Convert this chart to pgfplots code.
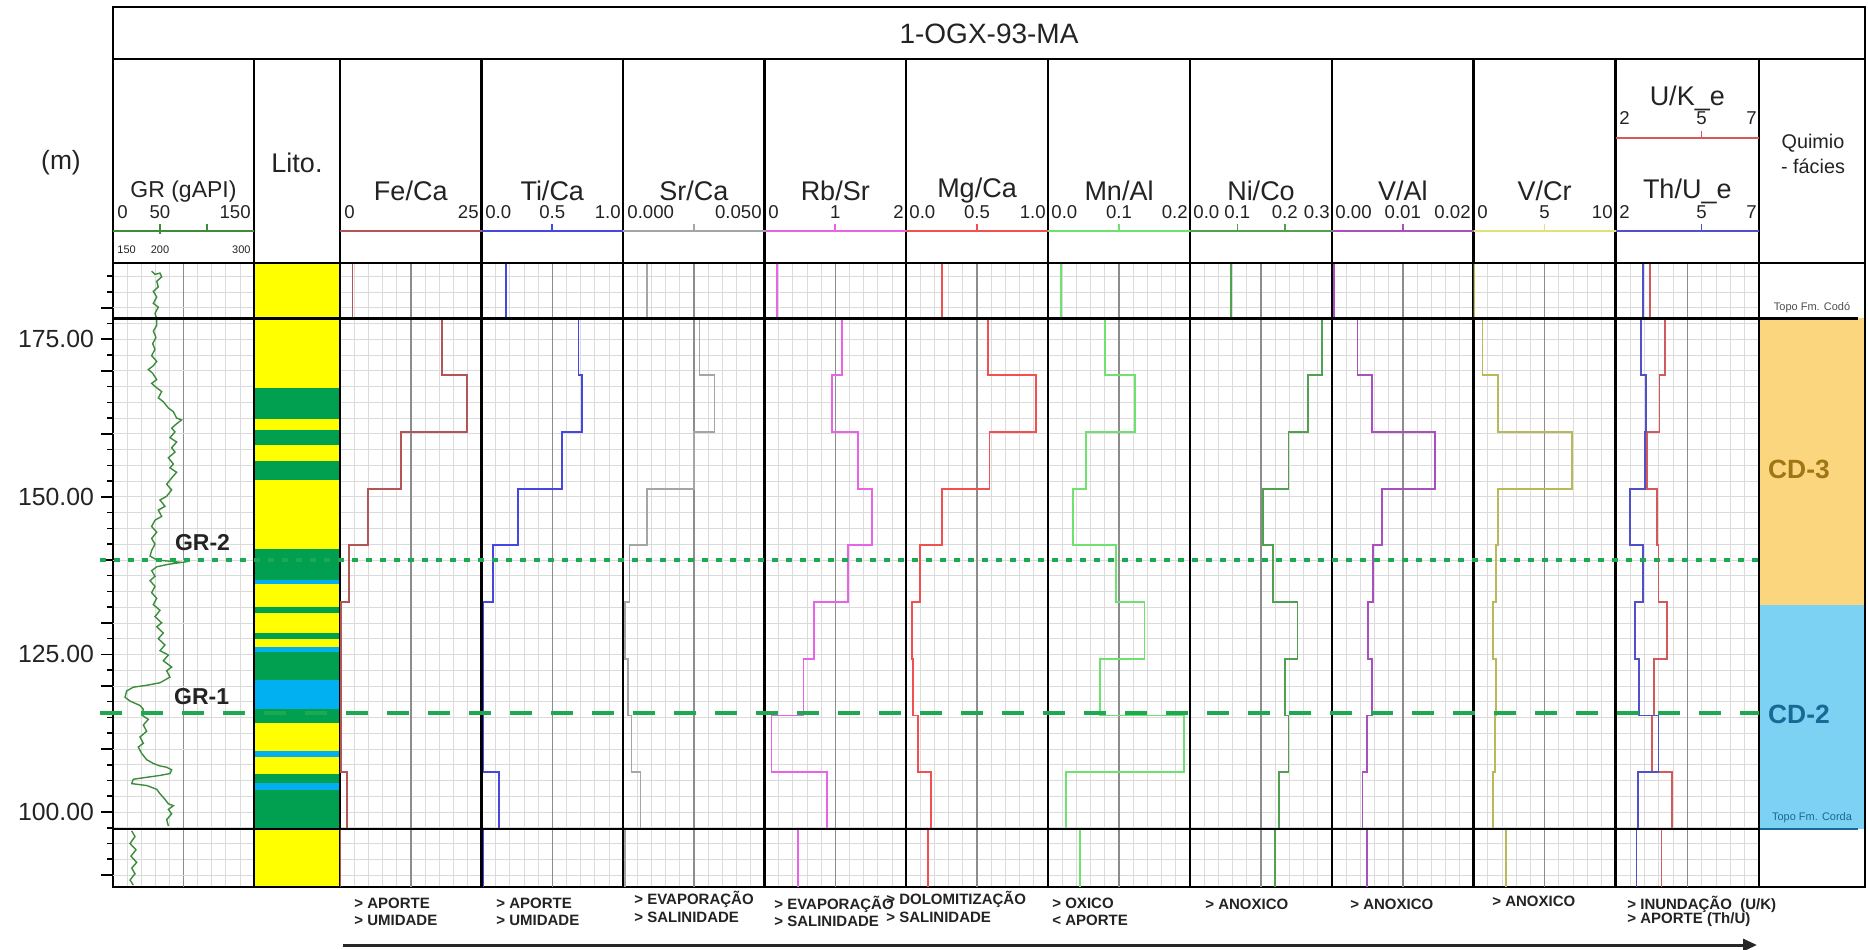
\documentclass[border=0pt]{standalone}
\usepackage{pgfplots}
\pgfplotsset{compat=1.18}
\usepackage{fontspec}
\setmainfont{Liberation Sans}
\usetikzlibrary{arrows.meta}

% curve and fill colours
\definecolor{txt}{RGB}{35,35,35}
\definecolor{cGR}{RGB}{60,140,60}
\definecolor{cFe}{RGB}{180,85,85}
\definecolor{cTi}{RGB}{70,70,225}
\definecolor{cSr}{RGB}{165,165,165}
\definecolor{cRb}{RGB}{230,100,230}
\definecolor{cMg}{RGB}{240,80,80}
\definecolor{cMn}{RGB}{110,225,110}
\definecolor{cNi}{RGB}{80,160,80}
\definecolor{cVAl}{RGB}{170,80,190}
\definecolor{cVCr}{RGB}{185,185,90}
\definecolor{cVCrH}{RGB}{225,225,120}
\definecolor{cUK}{RGB}{210,90,90}
\definecolor{cTh}{RGB}{80,80,200}
\definecolor{litoY}{RGB}{255,255,0}
\definecolor{litoG}{RGB}{0,160,80}
\definecolor{litoB}{RGB}{0,176,240}
\definecolor{cd3}{RGB}{252,214,126}
\definecolor{cd2}{RGB}{124,210,243}
\definecolor{cd3t}{RGB}{160,118,20}
\definecolor{cd2t}{RGB}{25,105,150}
\definecolor{grline}{RGB}{30,168,80}

\newcommand\fs[1]{\fontsize{#1}{#1}\selectfont}
\newcommand{\band}[3]{\addplot[draw=none, fill=#1] coordinates {(0,#2) (1,#2) (1,#3) (0,#3)} -- cycle;}

\pgfplotsset{
  track/.style={
    scale only axis, anchor=north west, height=312pt,
    ymin=88.1, ymax=187.1, clip=true,
    axis line style={line width=1.2pt, black},
    scaled x ticks=false, scaled y ticks=false,
    xticklabel=\empty, yticklabel=\empty,
    xtick pos=bottom, ytick pos=left,
    major tick length=0pt, minor tick length=0pt,
    xtick style={draw=none},
    ytick={90,92.5,...,185},
    xmajorgrids, ymajorgrids,
    major grid style={line width=0.35pt, black!14},
    extra x tick labels={},
    extra x tick style={grid=major, major grid style={line width=0.75pt, black!45}},
  },
  steplog/.style={const plot mark right, no markers, line width=0.9pt},
}

\begin{document}
\begin{tikzpicture}
\path[use as bounding box] (0,0) rectangle (934pt,-474.5pt);

% ---------- GR track with the depth scale ----------
\begin{axis}[track, at={(56.5pt,-131.5pt)}, width=70.5pt,
  xmin=0, xmax=150, xtick={0,15,...,150}, extra x ticks={75},
  ytick={100,125,150,175}, minor ytick={90,92.5,...,185},
  yminorgrids, minor grid style={line width=0.35pt, black!14},
  tick align=outside, major tick length=6pt, minor tick length=3pt,
  ytick style={black, line width=0.8pt},
  extra y ticks={90,110,120,130,140,160,170,180}, extra y tick labels={},
  yticklabel={\pgfmathprintnumber[fixed,fixed zerofill,precision=2]{\tick}},
  yticklabel style={font=\fs{12.4}, text=txt},
  /pgf/number format/assume math mode=true]
\addplot[cGR, line width=0.7pt, no markers] coordinates {
(41.1,185.8) (44.7,185.3) (50.0,185.5) (51.8,184.9) (46.5,184.2) (48.2,183.3) (42.9,182.6) (46.5,181.7)
(42.9,180.7) (48.2,180.1) (44.7,179.1) (46.5,178.3) (46.5,177.2) (42.9,176.3) (45.7,175.3) (42.2,174.3)
(44.7,173.4) (41.1,172.4) (46.5,171.5) (42.9,170.8) (37.6,170.2) (42.2,169.6) (46.5,168.6) (41.1,168.0)
(46.5,167.3) (51.8,166.7) (48.2,165.7) (53.5,165.1) (58.9,164.1) (64.2,163.5) (67.7,162.5) (73.0,162.2)
(67.7,161.6) (62.4,160.9) (66.0,160.3) (60.6,159.4) (67.7,158.7) (62.4,157.8) (66.0,157.1) (58.9,156.2)
(64.2,155.2) (60.6,154.6) (67.7,153.9) (62.4,153.0) (57.1,152.0) (62.4,151.1) (57.1,150.1) (50.0,149.5)
(55.3,148.5) (48.2,147.9) (51.8,146.9) (44.7,146.3) (41.1,145.3) (46.5,144.4) (41.1,143.4) (44.7,142.5)
(41.1,141.5) (39.4,140.6) (46.5,140.0) (58.9,139.8) (73.0,139.6) (58.9,139.3) (46.5,138.9) (41.1,138.3)
(44.7,137.4) (39.4,136.7) (44.7,135.8) (41.1,134.8) (46.5,133.9) (42.9,132.9) (50.0,132.0) (44.7,131.0)
(51.8,130.0) (46.5,129.4) (53.5,128.4) (48.2,127.5) (55.3,126.5) (50.0,125.6) (58.9,124.9) (53.5,124.0)
(62.4,123.0) (57.1,122.4) (60.6,121.4) (53.5,120.8) (50.0,120.5) (35.8,120.1) (21.6,119.8) (14.5,119.2)
(12.8,118.2) (18.1,117.6) (28.7,116.9) (32.3,116.3) (30.5,115.4) (37.6,114.7) (32.3,113.8) (35.8,112.8)
(28.7,111.9) (32.3,110.9) (26.9,110.3) (30.5,109.3) (35.8,108.3) (42.9,107.7) (50.0,107.3) (57.1,107.1)
(62.4,106.7) (60.6,106.1) (50.0,105.8) (35.8,105.5) (21.6,105.2) (19.9,104.5) (35.8,104.2) (46.5,103.6)
(50.0,102.9) (55.3,102.0) (58.9,101.3) (64.2,101.0) (58.9,100.4) (62.4,99.7) (57.1,98.8) (58.9,97.8)
};
\addplot[cGR, line width=0.7pt, no markers] coordinates {
(19.9,97.0) (23.4,96.1) (18.1,95.0) (24.5,94.0) (19.1,93.0) (25.2,92.0) (19.9,91.1) (23.4,90.2) (18.1,89.2) (21.6,88.4)
};
\end{axis}

% ---------- lithology ----------
\begin{axis}[track, at={(127pt,-131.5pt)}, width=43pt, xmin=0, xmax=1,
  xmajorgrids=false, ymajorgrids=false, xtick=\empty, ytick=\empty, axis on top]
\band{litoY}{187.1}{167.2}
\band{litoG}{167.2}{162.3}
\band{litoY}{162.3}{160.6}
\band{litoG}{160.6}{158.2}
\band{litoY}{158.2}{155.7}
\band{litoG}{155.7}{152.6}
\band{litoY}{152.6}{141.8}
\band{litoG}{141.8}{136.8}
\band{litoB}{136.8}{136.2}
\band{litoY}{136.2}{132.6}
\band{litoG}{132.6}{131.5}
\band{litoY}{131.5}{128.4}
\band{litoG}{128.4}{127.4}
\band{litoY}{127.4}{126.2}
\band{litoB}{126.2}{125.4}
\band{litoG}{125.4}{120.9}
\band{litoB}{120.9}{116.4}
\band{litoG}{116.4}{114.1}
\band{litoY}{114.1}{109.6}
\band{litoB}{109.6}{108.8}
\band{litoY}{108.8}{106.1}
\band{litoG}{106.1}{104.6}
\band{litoB}{104.6}{103.5}
\band{litoG}{103.5}{97.3}
\band{litoY}{97.3}{88.1}
\end{axis}

% ---------- Fe/Ca ----------
\begin{axis}[track, at={(170pt,-131.5pt)}, width=70.75pt, xmin=0, xmax=25, xtick={0,2.5,...,25}, extra x ticks={12.5}]
\addplot[steplog, cFe] coordinates {(2.2,187.1) (18.0,178.3) (22.5,169.3) (10.8,160.3) (4.9,151.3) (1.6,142.3) (0.2,133.3) (0.2,124.3) (0.2,115.3) (1.2,106.3) (0.1,97.3) (0.1,88.1)};
\end{axis}

% ---------- Ti/Ca ----------
\begin{axis}[track, at={(240.75pt,-131.5pt)}, width=70.75pt, xmin=0, xmax=1, xtick={0,0.1,...,1}, extra x ticks={0.5}]
\addplot[steplog, cTi] coordinates {(0.175,187.1) (0.685,178.3) (0.708,169.3) (0.568,160.3) (0.26,151.3) (0.082,142.3) (0.014,133.3) (0.014,124.3) (0.014,115.3) (0.124,106.3) (0.014,97.3) (0.014,88.1)};
\end{axis}

% ---------- Sr/Ca ----------
\begin{axis}[track, at={(311.5pt,-131.5pt)}, width=70.75pt, xmin=0, xmax=0.05, xtick={0,0.005,...,0.05}, extra x ticks={0.025}]
\addplot[steplog, cSr] coordinates {(0.0084,187.1) (0.027,178.3) (0.0323,169.3) (0.025,160.3) (0.0085,151.3) (0.0023,142.3) (0.0006,133.3) (0.0017,124.3) (0.0030,115.3) (0.0062,106.3) (0.0006,97.3) (0.0006,88.1)};
\end{axis}

% ---------- Rb/Sr ----------
\begin{axis}[track, at={(382.25pt,-131.5pt)}, width=70.75pt, xmin=0, xmax=2, xtick={0,0.2,...,2}, extra x ticks={1}]
\addplot[steplog, cRb] coordinates {(0.18,187.1) (1.10,178.3) (0.95,169.3) (1.32,160.3) (1.52,151.3) (1.18,142.3) (0.70,133.3) (0.55,124.3) (0.10,115.3) (0.88,106.3) (0.47,97.3) (0.47,88.1)};
\end{axis}

% ---------- Mg/Ca ----------
\begin{axis}[track, at={(453pt,-131.5pt)}, width=71pt, xmin=0, xmax=1, xtick={0,0.1,...,1}, extra x ticks={0.5}]
\addplot[steplog, cMg] coordinates {(0.254,187.1) (0.576,178.3) (0.913,169.3) (0.588,160.3) (0.254,151.3) (0.099,142.3) (0.04,133.3) (0.052,124.3) (0.085,115.3) (0.176,106.3) (0.153,97.3) (0.153,88.1)};
\end{axis}

% ---------- Mn/Al ----------
\begin{axis}[track, at={(524pt,-131.5pt)}, width=71pt, xmin=0, xmax=0.2, xtick={0,0.02,...,0.2}, extra x ticks={0.1}]
\addplot[steplog, cMn] coordinates {(0.018,187.1) (0.080,178.3) (0.122,169.3) (0.054,160.3) (0.035,151.3) (0.096,142.3) (0.136,133.3) (0.073,124.3) (0.192,115.3) (0.025,106.3) (0.045,97.3) (0.045,88.1)};
\end{axis}

% ---------- Ni/Co ----------
\begin{axis}[track, at={(595pt,-131.5pt)}, width=71pt, xmin=0, xmax=0.3, xtick={0,0.03,...,0.3}, extra x ticks={0.15}]
\addplot[steplog, cNi] coordinates {(0.086,187.1) (0.279,178.3) (0.249,169.3) (0.208,160.3) (0.155,151.3) (0.176,142.3) (0.227,133.3) (0.201,124.3) (0.208,115.3) (0.1875,106.3) (0.18,97.3) (0.18,88.1)};
\end{axis}

% ---------- V/Al ----------
\begin{axis}[track, at={(666pt,-131.5pt)}, width=70.75pt, xmin=0, xmax=0.02, xtick={0,0.002,...,0.02}, extra x ticks={0.01}]
\addplot[steplog, cVAl] coordinates {(0.0003,187.1) (0.0036,178.3) (0.0056,169.3) (0.0146,160.3) (0.0071,151.3) (0.0058,142.3) (0.0051,133.3) (0.0057,124.3) (0.0050,115.3) (0.0043,106.3) (0.0049,97.3) (0.0049,88.1)};
\end{axis}

% ---------- V/Cr ----------
\begin{axis}[track, at={(736.75pt,-131.5pt)}, width=71pt, xmin=0, xmax=10, xtick={0,1,...,10}, extra x ticks={5}]
\addplot[steplog, cVCr] coordinates {(0.05,187.1) (0.63,178.3) (1.72,169.3) (6.96,160.3) (1.72,151.3) (1.57,142.3) (1.39,133.3) (1.57,124.3) (1.52,115.3) (1.39,106.3) (2.28,97.3) (2.28,88.1)};
\end{axis}

% ---------- U/K and Th/U ----------
\begin{axis}[track, at={(807.75pt,-131.5pt)}, width=71.75pt, xmin=2, xmax=7, xtick={2,2.5,...,7}, extra x ticks={4.5}]
\addplot[steplog, cUK] coordinates {(3.21,187.1) (3.73,178.3) (3.53,169.3) (3.11,160.3) (3.45,151.3) (3.5,142.3) (3.79,133.3) (3.35,124.3) (3.28,115.3) (3.96,106.3) (3.6,97.3) (3.6,88.1)};
\addplot[steplog, cTh] coordinates {(2.96,187.1) (2.9,178.3) (3.06,169.3) (3.02,160.3) (2.51,151.3) (2.96,142.3) (2.68,133.3) (2.83,124.3) (3.5,115.3) (2.77,106.3) (2.73,97.3) (2.73,88.1)};
\end{axis}

% ---------- chemofacies ----------
\begin{axis}[track, at={(879.5pt,-131.5pt)}, width=53pt, xmin=0, xmax=1,
  xmajorgrids=false, ymajorgrids=false, xtick=\empty, ytick=\empty, axis on top]
\addplot[draw=none, fill=cd3] coordinates {(0,178.3) (1,178.3) (1,132.8) (0,132.8)} -- cycle;
\addplot[draw=none, fill=cd2] coordinates {(0,132.8) (1,132.8) (1,97.3) (0,97.3)} -- cycle;
\addplot[cd2t, line width=1.2pt, no markers] coordinates {(0,97.3) (0.93,97.3)};
\addplot[black, line width=1.2pt, no markers] coordinates {(0,178.3) (0.93,178.3)};
\node[font=\bfseries\fs{13.2}, text=cd3t] at (axis cs:0.377,154.4) {CD-3};
\node[font=\bfseries\fs{13.2}, text=cd2t] at (axis cs:0.377,115.5) {CD-2};
\node[font=\fs{5.5}, text=black!70] at (axis cs:0.5,180.0) {Topo Fm. Codó};
\node[font=\fs{5.5}, text=cd2t] at (axis cs:0.5,99.1) {Topo Fm. Corda};
\end{axis}

% ---------- frame, header and annotations ----------
\begin{scope}[x=0.5pt, y=-0.5pt]
  % title row and header frame
  \draw[line width=1.2pt] (113,7) rectangle (1865,59);
  \draw[line width=1.2pt] (113,263) -- (1865,263);
  \foreach \xx in {113,254,340,481.5,623,764.5,906,1048,1190,1332,1473.5,1615.5,1759,1865}
    \draw[line width=1.2pt] (\xx,59) -- (\xx,263);
  % formation tops across the log tracks
  \draw[line width=1.2pt] (113,318.5) -- (1759,318.5);
  \draw[line width=1.2pt] (113,829) -- (1759,829);

  \node[font=\fs{14}, text=txt] at (989,34) {1-OGX-93-MA};
  \node[font=\fs{13.2}, text=txt] at (61,163) {(m)};
  \node[font=\fs{13.5}, text=txt] at (297,163) {Lito.};
  \node[font=\fs{9.9}, text=txt] at (1813,143) {Quimio};
  \node[font=\fs{9.9}, text=txt] at (1813,166) {- fácies};

  % track titles
  \node[font=\fs{11.5}, text=txt] at (183.5,192) {GR (gAPI)};
  \node[font=\fs{13.5}, text=txt] at (410.75,191) {Fe/Ca};
  \node[font=\fs{13.5}, text=txt] at (552.25,191) {Ti/Ca};
  \node[font=\fs{13.5}, text=txt] at (693.75,191) {Sr/Ca};
  \node[font=\fs{13.5}, text=txt] at (835.25,191) {Rb/Sr};
  \node[font=\fs{13.5}, text=txt] at (977,191) {Mg/Ca};
  \node[font=\fs{13.5}, text=txt] at (1119,191) {Mn/Al};
  \node[font=\fs{13.5}, text=txt] at (1261,191) {Ni/Co};
  \node[font=\fs{13.5}, text=txt] at (1402.75,191) {V/Al};
  \node[font=\fs{13.5}, text=txt] at (1544.5,191) {V/Cr};
  \node[font=\fs{13.5}, text=txt] at (1687.25,191) {Th/U\_e};
  \node[font=\fs{13.5}, text=txt] at (1687.25,98) {U/K\_e};

  % scale bars
  \draw[cGR, line width=1pt] (113,231) -- (254,231);
  \draw[cGR, line width=0.8pt] (160,224) -- (160,234) (207,224) -- (207,231);
  \draw[cFe, line width=1pt] (340,231) -- (481.5,231);
  \draw[cTi, line width=1pt] (481.5,231) -- (623,231);
  \draw[cTi, line width=0.8pt] (552.25,224) -- (552.25,231);
  \draw[cSr, line width=1pt] (623,231) -- (764.5,231);
  \draw[cSr, line width=0.8pt] (693.75,224) -- (693.75,231);
  \draw[cRb, line width=1pt] (764.5,231) -- (906,231);
  \draw[cRb, line width=0.8pt] (835.25,224) -- (835.25,231);
  \draw[cMg, line width=1pt] (906,231) -- (1048,231);
  \draw[cMg, line width=0.8pt] (977,224) -- (977,231);
  \draw[cMn, line width=1pt] (1048,231) -- (1190,231);
  \draw[cMn, line width=0.8pt] (1119,224) -- (1119,231);
  \draw[cNi, line width=1pt] (1190,231) -- (1332,231);
  \draw[cNi, line width=0.8pt] (1237.3,224) -- (1237.3,231) (1284.7,224) -- (1284.7,231);
  \draw[cVAl, line width=1pt] (1332,231) -- (1473.5,231);
  \draw[cVAl, line width=0.8pt] (1402.75,224) -- (1402.75,231);
  \draw[cVCrH, line width=1pt] (1473.5,231) -- (1615.5,231);
  \draw[cVCrH, line width=0.8pt] (1544.5,224) -- (1544.5,231);
  \draw[cTh, line width=1pt] (1615.5,231) -- (1759,231);
  \draw[cTh, line width=0.8pt] (1701.6,224) -- (1701.6,231);
  \draw[cUK, line width=1pt] (1615.5,138) -- (1759,138);
  \draw[cUK, line width=0.8pt] (1701.6,131) -- (1701.6,138);

  % scale numbers
  \begin{scope}[every node/.style={font=\fs{9.3}, text=txt, inner sep=0pt}]
    \node[anchor=west] at (117,212) {0};
    \node at (160,212) {50};
    \node[anchor=east] at (251,212) {150};
    \node[anchor=west] at (344,212) {0};
    \node[anchor=east] at (479,212) {25};
    \node[anchor=west] at (485,212) {0.0};
    \node at (552.25,212) {0.5};
    \node[anchor=east] at (621,212) {1.0};
    \node[anchor=west] at (627,212) {0.000};
    \node[anchor=east] at (762,212) {0.050};
    \node[anchor=west] at (768,212) {0};
    \node at (835.25,212) {1};
    \node[anchor=east] at (904,212) {2};
    \node[anchor=west] at (909,212) {0.0};
    \node at (977,212) {0.5};
    \node[anchor=east] at (1046,212) {1.0};
    \node[anchor=west] at (1051,212) {0.0};
    \node at (1119,212) {0.1};
    \node[anchor=east] at (1188,212) {0.2};
    \node[anchor=west] at (1193,212) {0.0};
    \node at (1237.3,212) {0.1};
    \node at (1284.7,212) {0.2};
    \node[anchor=east] at (1330,212) {0.3};
    \node[anchor=west] at (1335,212) {0.00};
    \node at (1402.75,212) {0.01};
    \node[anchor=east] at (1471,212) {0.02};
    \node[anchor=west] at (1477,212) {0};
    \node at (1544.5,212) {5};
    \node[anchor=east] at (1613,212) {10};
    \node[anchor=west] at (1619,212) {2};
    \node at (1701.6,212) {5};
    \node[anchor=east] at (1757,212) {7};
    \node[anchor=west] at (1619,118) {2};
    \node at (1701.6,118) {5};
    \node[anchor=east] at (1757,118) {7};
  \end{scope}
  \begin{scope}[every node/.style={font=\fs{5.5}, text=txt, inner sep=0pt}]
    \node[anchor=west] at (117,250) {150};
    \node at (160,250) {200};
    \node[anchor=east] at (251,250) {300};
  \end{scope}

  % GR-2 and GR-1 surfaces
  \draw[grline, line width=2.2pt, dash pattern=on 3pt off 4pt] (100,559.9) -- (1759,559.9);
  \draw[grline, line width=2.2pt, dash pattern=on 11pt off 9.5pt] (100,713) -- (1759,713);
  \node[font=\bfseries\fs{11.5}, text=txt] at (202.5,543) {GR-2};
  \node[font=\bfseries\fs{11.5}, text=txt] at (201.7,696.7) {GR-1};

  % interpretation notes under each track
  \begin{scope}[every node/.style={font=\bfseries\fs{7.5}, text=txt, anchor=west, inner sep=0pt}]
    \node at (354,903) {\textgreater{} APORTE};
    \node at (354,920) {\textgreater{} UMIDADE};
    \node at (496,903) {\textgreater{} APORTE};
    \node at (496,920) {\textgreater{} UMIDADE};
    \node at (634,899) {\textgreater{} EVAPORAÇÃO};
    \node at (634,917) {\textgreater{} SALINIDADE};
    \node at (774,904) {\textgreater{} EVAPORAÇÃO};
    \node at (774,921) {\textgreater{} SALINIDADE};
    \node at (886,899) {\textgreater{} DOLOMITIZAÇÃO};
    \node at (886,917) {\textgreater{} SALINIDADE};
    \node at (1052,903) {\textgreater{} OXICO};
    \node at (1052,920) {\textless{} APORTE};
    \node at (1205,904) {\textgreater{} ANOXICO};
    \node at (1350,904) {\textgreater{} ANOXICO};
    \node at (1492,901) {\textgreater{} ANOXICO};
    \node at (1627,904) {\textgreater{} INUNDAÇÃO\ \ (U/K)};
    \node at (1627,920) {\textgreater{} APORTE (Th/U)};
  \end{scope}
  \draw[black!85, line width=1.5pt, -{Triangle[length=7pt, width=6pt]}] (343,945) -- (1757,945);
\end{scope}
\end{tikzpicture}
\end{document}
